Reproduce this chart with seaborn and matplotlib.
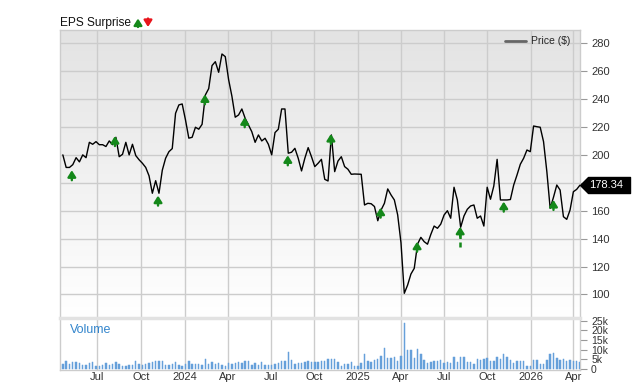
import numpy as np
import pandas as pd
import matplotlib
matplotlib.use("Agg")
import matplotlib.pyplot as plt
import matplotlib.dates as mdates
from matplotlib.colors import LinearSegmentedColormap
from matplotlib.lines import Line2D
from matplotlib.transforms import blended_transform_factory
import seaborn as sns

sns.set_theme(style="white")
plt.rcParams["font.family"] = ["Liberation Sans", "DejaVu Sans"]

# ---------------- data ----------------
last_date = "2026-04-15"
prices = [
    200, 191, 191, 193, 198, 195, 200, 198, 209, 207.6,
    209.5, 207.3, 207.3, 206, 210, 207.3, 212.6, 198.7, 200.4, 209,
    200, 207.6, 199.5, 196.5, 194, 191, 185, 172.5, 181.5, 172.5,
    189, 197.6, 202.3, 204.5, 229.8, 235.8, 236.5, 225, 212, 212.6,
    219.8, 218.4, 221.9, 243, 247.5, 264, 266.8, 259.2, 272.3, 270.4,
    254, 242, 227, 228.6, 232.9, 226.2, 221.4, 216.6, 209, 214.3,
    210, 211.9, 207.6, 200, 216, 218.4, 232.9, 232.9, 201.2, 201.9,
    204.7, 197.6, 188.5, 197.6, 205.2, 198.7, 191.6, 194, 196.8, 182.5,
    181.3, 214.3, 188, 195.6, 198.7, 191.6, 189.7, 186.1, 186.3, 186.2,
    186.1, 164.1, 165.3, 165, 163, 152.8, 160.5, 165.3, 175.6, 171.3,
    167.7, 157, 137, 100.8, 106.7, 114.6, 118.7, 136.1, 140.9, 137.8,
    136, 143, 149, 147.4, 150.4, 156.9, 160, 154.6, 176.8, 167.7,
    148.1, 156.2, 161, 163.4, 164.1, 154.6, 156.2, 149, 176.8, 168.2,
    177.7, 196.8, 167.7, 167.7, 167.7, 168, 178.4, 185.6, 193.3, 197.6,
    203.5, 202.3, 220.7, 220.2, 219.8, 209.5, 188, 161.7, 169.6, 178.4,
    174.8, 155.7, 153.8, 160.5, 173.6, 175.3, 178.34,
]
volume_k = [
    2.6, 4.3, 2.6, 3.4, 3.4, 2.9, 2.2, 2.2, 2.9, 3.4,
    1.7, 1.4, 2.1, 3.1, 2.2, 2.6, 3.4, 2.6, 1.7, 1.7,
    2.1, 2.2, 4.3, 2.6, 2.1, 2.6, 2.9, 3.4, 4.0, 4.0,
    4.0, 2.1, 2.1, 2.6, 3.4, 2.1, 1.4, 2.6, 4.0, 2.6,
    2.6, 2.6, 2.2, 5.2, 2.6, 3.4, 2.6, 2.9, 2.2, 1.7,
    2.9, 2.6, 2.9, 3.4, 2.9, 4.0, 4.0, 2.1, 3.1, 2.2,
    3.4, 2.2, 2.2, 2.1, 2.6, 2.9, 4.0, 4.3, 9.0, 4.8,
    2.6, 2.9, 2.9, 3.4, 4.0, 3.8, 3.8, 3.4,
    3.9, 4.2, 5.4,
    5.4, 5.1, 3.4, 1.7, 2.5, 2.5, 3.7, 1.7, 1.7, 3.0,
    7.6, 4.2, 3.7, 4.6, 5.4, 6.8, 11.0, 5.9, 5.9, 6.3,
    4.2, 6.8, 23.6, 10.1, 9.8, 5.9, 10.5, 7.6, 4.6, 2.9,
    3.7, 4.2, 4.2, 4.7, 3.0, 3.7, 3.0, 6.3, 3.7, 6.3,
    6.3, 3.7, 3.7, 2.5, 5.1, 4.7, 5.1, 5.9, 4.2, 4.2,
    6.3, 5.4, 7.6, 6.3, 4.7, 3.0, 4.2, 4.2, 4.2, 1.7,
    1.7, 4.6, 4.6, 2.5, 2.5, 4.6, 7.9, 8.4, 5.9, 4.6,
    5.1, 4.2, 4.6, 4.2, 4.2,
    3.8,
]
eps_dates = ["2023-05-08", "2023-08-07", "2023-11-06", "2024-02-13",
             "2024-05-07", "2024-08-06", "2024-11-05", "2025-02-18",
             "2025-05-06", "2025-08-05", "2025-11-05", "2026-02-18"]
eps_tip = [189, 213.5, 170.8, 243.4, 227, 199.7, 215, 162.2,
           137.8, 148.5, 166.5, 167.7]
eps_dashed_tail = [None, None, None, None, None, None, None, None,
                   None, 134, None, None]
price_ticks = [100, 120, 140, 160, 180, 200, 220, 240, 260, 280]
price_tick_labels = ["100", "120", "140", "160", "", "200", "220", "240", "260", "280"]
vol_ticks = [0, 5, 10, 15, 20, 25]
vol_tick_labels = ["0", "5k", "10k", "15k", "20k", "25k"]
quarter_ticks = ["2023-07-01", "2023-10-01", "2024-01-01", "2024-04-01",
                 "2024-07-01", "2024-10-01", "2025-01-01", "2025-04-01",
                 "2025-07-01", "2025-10-01", "2026-01-01", "2026-04-01"]
quarter_labels = ["Jul", "Oct", "2024", "Apr", "Jul", "Oct", "2025", "Apr",
                  "Jul", "Oct", "2026", "Apr"]
x_range = ("2023-04-13", "2026-04-15")
price_range = (83.1, 289.5)
vol_range = (-0.5, 26.4)

dates = pd.date_range(end=last_date, periods=len(prices), freq="7D")
df = pd.DataFrame({"date": dates, "price": prices, "volume": volume_k})

GRID = "#cccccc"
GREEN = "#14881a"
RED = "#e8141b"
TXT = "#333333"
ARROW = "-|>,head_length=0.38,head_width=0.24"

W, H = 640, 382
fig = plt.figure(figsize=(W / 100, H / 100), dpi=100)
rect_p = [60 / W, 1 - 318 / H, 520 / W, 288 / H]
rect_v = [60 / W, 1 - 370 / H, 520 / W, 52 / H]

# background gradient
bg = fig.add_axes(rect_p, zorder=0)
cmap = LinearSegmentedColormap.from_list("g", ["#e3e3e3", "#ffffff"])
bg.imshow(np.linspace(0, 1, 256).reshape(-1, 1), cmap=cmap, aspect="auto",
          extent=[0, 1, 0, 1])
bg.axis("off")

ax = fig.add_axes(rect_p, zorder=1)
ax.patch.set_alpha(0)
axv = fig.add_axes(rect_v, zorder=1)

xlim = (pd.Timestamp(x_range[0]), pd.Timestamp(x_range[1]))
qt = [pd.Timestamp(d) for d in quarter_ticks]

# price line
sns.lineplot(data=df, x="date", y="price", ax=ax, color="black", lw=1.0,
             legend=False, zorder=3)
ax.set_xlim(*xlim)
ax.set_ylim(*price_range)
ax.set_xticks(qt)
ax.set_xticklabels([])
ax.set_yticks(price_ticks)
ax.set_yticklabels(price_tick_labels)
ax.yaxis.tick_right()
ax.tick_params(axis="y", length=5, width=0.8, color="#999999", pad=3,
               labelsize=8, labelcolor=TXT)
ax.tick_params(axis="x", length=0)
ax.grid(True, color=GRID, lw=1)
ax.set_axisbelow(True)
ax.set_xlabel("")
ax.set_ylabel("")
for s in ax.spines.values():
    s.set_color(GRID)
    s.set_linewidth(1)

# EPS arrows
for d, tip, tail in zip(eps_dates, eps_tip, eps_dashed_tail):
    dt = pd.Timestamp(d)
    if tail is not None:
        ax.plot([dt, dt], [tail, tip - 4], color=GREEN, lw=1.8,
                ls=(0, (2, 1.4)), zorder=4)
    ax.annotate("", xy=(dt, tip), xytext=(0, -7.2), textcoords="offset points",
                arrowprops=dict(arrowstyle=ARROW, color=GREEN, lw=1.7,
                                shrinkA=0, shrinkB=0, mutation_scale=10),
                zorder=5)

# legend
ax.legend(handles=[Line2D([], [], color="#666666", lw=2)], labels=["Price ($)"],
          loc="upper right", bbox_to_anchor=(1.0, 1.01), frameon=False,
          fontsize=7.5, handlelength=2.0, handletextpad=0.5)

# last price tag
last_price = prices[-1]
tr = blended_transform_factory(ax.transAxes, ax.transData)
tag = [(0, 0), (8, 8), (50, 8), (50, -8), (8, -8), (0, 0)]
ax.plot([1.0], [last_price], marker=tag, markersize=72, color="black",
        transform=tr, clip_on=False, zorder=6)
ax.annotate(f"{last_price:.2f}", xy=(1.0, last_price), xycoords=tr,
            xytext=(19, 0), textcoords="offset points", ha="center", va="center",
            color="white", fontsize=8, zorder=7, annotation_clip=False)

# volume
axv.bar(df["date"], df["volume"], width=3.0, color="#66a0da",
        edgecolor="#66a0da", linewidth=0.35, zorder=3)
axv.set_xlim(*xlim)
axv.set_ylim(*vol_range)
axv.set_xticks(qt)
axv.set_xticklabels(quarter_labels)
axv.set_yticks(vol_ticks)
axv.set_yticklabels(vol_tick_labels)
axv.yaxis.tick_right()
axv.tick_params(axis="y", length=5, width=0.8, color="#999999", pad=3,
                labelsize=7.5, labelcolor=TXT)
axv.tick_params(axis="x", length=0, pad=1.5, labelsize=8, labelcolor=TXT)
axv.grid(True, axis="x", color=GRID, lw=1)
axv.set_axisbelow(True)
for s in axv.spines.values():
    s.set_color(GRID)
    s.set_linewidth(1)
axv.spines["top"].set_color("#e2e2e2")
axv.spines["top"].set_linewidth(2.5)
axv.text(0.019, 0.77, "Volume", transform=axv.transAxes, color="#3385cc",
         fontsize=9, va="center", ha="left")

# EPS Surprise header
fig.text(60 / W, 1 - 26 / H, "EPS Surprise", fontsize=8.6, color="#111111",
         ha="left", va="baseline")
for x0, up, col in [(138, True, GREEN), (148, False, RED)]:
    y_lo, y_hi = H - 27, H - 18.5
    if up:
        xy, xyt = (x0, y_hi), (x0, y_lo)
    else:
        xy, xyt = (x0, y_lo), (x0, y_hi)
    ax.annotate("", xy=xy, xycoords="figure pixels", xytext=xyt,
                textcoords="figure pixels",
                arrowprops=dict(arrowstyle=ARROW, color=col, lw=1.7,
                                shrinkA=0, shrinkB=0, mutation_scale=10),
                annotation_clip=False)

fig.savefig("out.png", dpi=100)
